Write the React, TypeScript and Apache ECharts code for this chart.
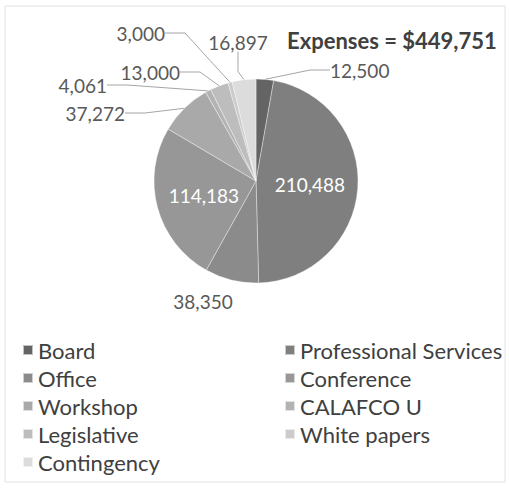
import React, { useEffect, useRef } from "react";
import * as echarts from "echarts";

const categories = [
  "Board",
  "Professional Services",
  "Office",
  "Conference",
  "Workshop",
  "CALAFCO U",
  "Legislative",
  "White papers",
  "Contingency",
];
const values = [12500, 210488, 38350, 114183, 37272, 4061, 13000, 3000, 16897];
const colors = ["#646464", "#7f7f7f", "#8b8b8b", "#979797", "#a9a9a9", "#b3b3b3", "#bdbdbd", "#cbcbcb", "#dcdcdc"];
const insideLabels = [1, 3];
const titleText = "Expenses = $449,751";
const leftLegend = ["Board", "Office", "Workshop", "Legislative", "Contingency"];
const rightLegend = ["Professional Services", "Conference", "CALAFCO U", "White papers"];

// label anchor positions (x, y, align)
const labelPos: Record<number, [number, number, string]> = {
  0: [330, 70, "left"],
  2: [203, 301, "center"],
  4: [125, 113, "right"],
  5: [107, 85, "right"],
  6: [180, 72, "right"],
  7: [165, 33, "right"],
  8: [238, 42, "center"],
};

const FONT = "Lato, 'Noto Sans', sans-serif";

export default function App() {
  const ref = useRef<HTMLDivElement>(null);
  useEffect(() => {
    document.body.style.margin = "0";
    const chart = echarts.init(ref.current!, null, { renderer: "svg" });
    const fmt = (v: number) => v.toLocaleString("en-US");
    const legendBase = {
      orient: "vertical",
      top: 339,
      padding: 0,
      itemWidth: 10,
      itemHeight: 10,
      itemGap: 6,
      icon: "rect",
      textStyle: { fontSize: 22, lineHeight: 22, color: "#404040", fontFamily: FONT },
      selectedMode: false,
    };
    chart.setOption({
      animation: false,
      backgroundColor: "#ffffff",
      color: colors,
      title: {
        text: titleText,
        left: 287,
        top: 29,
        padding: 0,
        textStyle: { fontSize: 22, fontWeight: "bold", color: "#404040", fontFamily: FONT },
      },
      legend: [
        { ...legendBase, left: 22, data: leftLegend },
        { ...legendBase, left: 284, data: rightLegend },
      ],
      graphic: [
        {
          type: "rect",
          shape: { x: 5, y: 6, width: 500, height: 476 },
          style: { fill: "none", stroke: "#e2e2e2", lineWidth: 1 },
          silent: true,
        },
      ],
      series: [
        {
          type: "pie",
          center: [256, 181],
          radius: 102,
          startAngle: 90,
          clockwise: true,
          avoidLabelOverlap: false,
          itemStyle: { borderColor: "rgba(255,255,255,0.6)", borderWidth: 0.6 },
          label: {
            show: true,
            position: "outside",
            formatter: (p: any) => fmt(p.value),
            fontSize: 19,
            color: "#595959",
            fontFamily: FONT,
          },
          labelLine: { show: true, length: 10, length2: 20, lineStyle: { color: "#a6a6a6", width: 1 } },
          labelLayout: (params: any) => {
            const p = labelPos[params.dataIndex];
            if (!p) return {};
            return { x: p[0], y: p[1], align: p[2], verticalAlign: "middle" };
          },
          data: categories.map((name, i) => {
            const item: any = { name, value: values[i] };
            if (insideLabels.includes(i)) {
              item.label = { position: "inside", color: "#ffffff", fontSize: 19 };
              item.labelLine = { show: false };
            }
            if (i === 2) item.labelLine = { show: false };
            return item;
          }),
        },
      ],
    });
    return () => chart.dispose();
  }, []);
  return <div ref={ref} style={{ width: 509, height: 489 }} />;
}
